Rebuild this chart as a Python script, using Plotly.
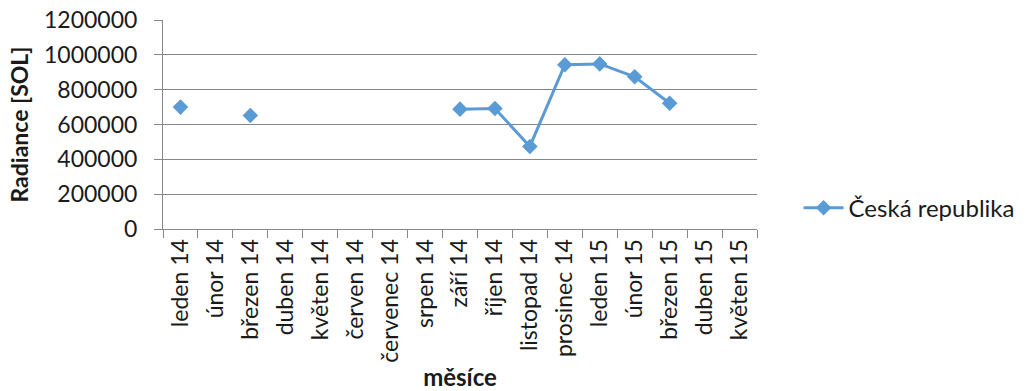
import plotly.graph_objects as go

months = ["leden 14", "únor 14", "březen 14", "duben 14", "květen 14", "červen 14",
          "červenec 14", "srpen 14", "září 14", "říjen 14", "listopad 14", "prosinec 14",
          "leden 15", "únor 15", "březen 15", "duben 15", "květen 15"]
radiance = [700000, None, 652000, None, None, None, None, None, 688000, 692000,
            474000, 943000, 948000, 874000, 722000, None, None]
series_name = "Česká republika"
y_ticks = [0, 200000, 400000, 600000, 800000, 1000000, 1200000]

color = "#5B9BD5"
font = "Lato, Open Sans, sans-serif"

fig = go.Figure()
fig.add_trace(go.Scatter(
    x=months, y=radiance, name=series_name, mode="lines+markers",
    connectgaps=False,
    line=dict(color=color, width=3),
    marker=dict(symbol="diamond", size=12, color=color),
))

fig.update_layout(
    width=1028, height=391,
    margin=dict(l=163, r=271, t=20, b=162, autoexpand=False),
    paper_bgcolor="white", plot_bgcolor="white",
    font=dict(family=font, size=23, color="#1a1a1a"),
    showlegend=True,
    legend=dict(x=1.07, y=0.1, xanchor="left", yanchor="middle",
                font=dict(size=24, family=font), bgcolor="rgba(0,0,0,0)",
                itemwidth=40),
)
fig.update_xaxes(
    type="category", categoryorder="array", categoryarray=months,
    range=[-0.5, len(months) - 0.5],
    tickangle=-90, tickson="boundaries", ticks="outside", ticklen=8,
    tickcolor="#868686", showline=True, linecolor="#868686", linewidth=1,
    showgrid=False, automargin=False,
    tickfont=dict(size=23, family=font),
    title=dict(text="<b>měsíce</b>", font=dict(size=24, family=font), standoff=14),
)
fig.update_yaxes(
    range=[0, 1200000], tickvals=y_ticks, ticktext=[str(v) for v in y_ticks],
    ticks="outside", ticklen=8, tickcolor="#868686", ticklabelstandoff=12,
    showline=True, linecolor="#868686", linewidth=1,
    showgrid=True, gridcolor="#868686", gridwidth=1, zeroline=False,
    automargin=False, tickfont=dict(size=23, family=font),
    title=dict(text="<b>Radiance [SOL]</b>", font=dict(size=23, family=font), standoff=8),
)

fig.write_html("out.html")
